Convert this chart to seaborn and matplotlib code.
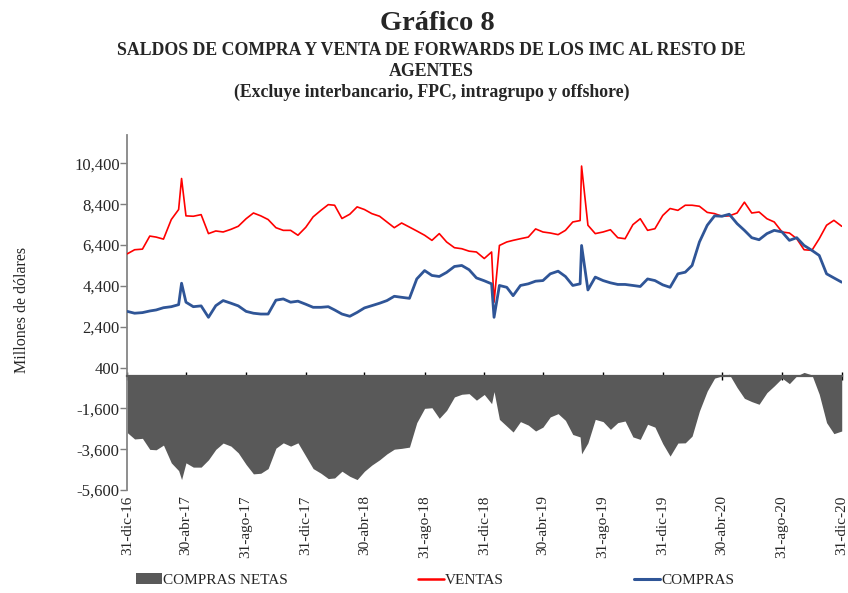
import matplotlib
matplotlib.use("Agg")
import matplotlib.pyplot as plt
import matplotlib.ticker as mticker
from matplotlib.patches import Patch
from matplotlib.lines import Line2D
import pandas as pd
import seaborn as sns

# ---------------- data ----------------
fechas = [
    "2016-12-31",
    "2017-01-15", "2017-01-31", "2017-02-15", "2017-02-28", "2017-03-15", "2017-03-31",
    "2017-04-15", "2017-04-21", "2017-04-30", "2017-05-15", "2017-05-31", "2017-06-15",
    "2017-06-30", "2017-07-15", "2017-07-31", "2017-08-15", "2017-08-31", "2017-09-15",
    "2017-09-30", "2017-10-15", "2017-10-31", "2017-11-15", "2017-11-30", "2017-12-15",
    "2017-12-31",
    "2018-01-15", "2018-01-31", "2018-02-15", "2018-02-28", "2018-03-15", "2018-03-31",
    "2018-04-15", "2018-04-30", "2018-05-15", "2018-05-31", "2018-06-15", "2018-06-30",
    "2018-07-15", "2018-07-31", "2018-08-15", "2018-08-31", "2018-09-15", "2018-09-30",
    "2018-10-15", "2018-10-31", "2018-11-15", "2018-11-30", "2018-12-15", "2018-12-31",
    "2019-01-15", "2019-01-20", "2019-01-31", "2019-02-15", "2019-02-28", "2019-03-15",
    "2019-03-31", "2019-04-15", "2019-04-30", "2019-05-15", "2019-05-31", "2019-06-15",
    "2019-06-30", "2019-07-15", "2019-07-18", "2019-07-31", "2019-08-15", "2019-08-31",
    "2019-09-15", "2019-09-30", "2019-10-15", "2019-10-31", "2019-11-15", "2019-11-30",
    "2019-12-15", "2019-12-31",
    "2020-01-15", "2020-01-31", "2020-02-15", "2020-02-29", "2020-03-15", "2020-03-31",
    "2020-04-15", "2020-04-30", "2020-05-15", "2020-05-31", "2020-06-15", "2020-06-30",
    "2020-07-15", "2020-07-31", "2020-08-15", "2020-08-31", "2020-09-15", "2020-09-30",
    "2020-10-15", "2020-10-31", "2020-11-15", "2020-11-30", "2020-12-15", "2020-12-31",
]

ventas = [
    5970,
    6170, 6200, 6840, 6790, 6690, 7650,
    8140, 9660, 7830, 7810, 7890, 6960,
    7090, 7040, 7170, 7320, 7690, 7970,
    7830, 7650, 7250, 7120, 7120, 6880,
    7270,
    7780, 8100, 8380, 8350, 7700, 7910,
    8270, 8140, 7940, 7810, 7530, 7250,
    7480, 7280, 7090, 6880, 6630, 6960,
    6550, 6270, 6220, 6100, 6060, 5740,
    6060, 3600, 6380, 6550, 6630, 6710,
    6790, 7190, 7040, 6990, 6910, 7120,
    7530, 7600, 10270, 7370, 6960, 7040,
    7150, 6760, 6710, 7400, 7690, 7120,
    7200, 7850,
    8190, 8100, 8350, 8350, 8300, 8000,
    7940, 7810, 7830, 7970, 8500, 7970,
    8020, 7690, 7530, 7040, 6990, 6710,
    6170, 6140, 6710, 7370, 7610, 7320,
]

compras = [
    3150,
    3060, 3090, 3170, 3220, 3330, 3380,
    3480, 4530, 3600, 3380, 3420, 2860,
    3430, 3680, 3550, 3420, 3150, 3060,
    3020, 3020, 3700, 3760, 3600, 3650,
    3500,
    3350, 3350, 3380, 3220, 3020, 2910,
    3100, 3320, 3430, 3550, 3680, 3890,
    3840, 3790, 4740, 5150, 4910, 4860,
    5060, 5350, 5400, 5190, 4790, 4650,
    4500, 2860, 4420, 4330, 3920, 4420,
    4500, 4630, 4660, 4990, 5120, 4860,
    4420, 4500, 6380, 4200, 4830, 4660,
    4550, 4470, 4470, 4420, 4370, 4740,
    4660, 4450,
    4330, 4990, 5070, 5400, 6550, 7370,
    7830, 7810, 7910, 7450, 7120, 6760,
    6660, 6960, 7120, 7040, 6630, 6760,
    6380, 6140, 5890, 4990, 4790, 4580,
]

compras_netas = [
    -2790,
    -3100, -3070, -3610, -3630, -3400, -4270,
    -4650, -5090, -4270, -4480, -4480, -4120,
    -3610, -3300, -3450, -3780, -4350, -4810,
    -4780, -4550, -3550, -3290, -3450, -3290,
    -3940,
    -4550, -4780, -5040, -5010, -4680, -4930,
    -5090, -4680, -4380, -4120, -3830, -3600,
    -3560, -3500, -2300, -1600, -1570, -2090,
    -1700, -1040, -910, -880, -1200, -920,
    -1370, -780, -2140, -2470, -2760, -2250,
    -2420, -2710, -2520, -2020, -1860, -2190,
    -2880, -3000, -3830, -3290, -2140, -2250,
    -2630, -2300, -2220, -3000, -3120, -2380,
    -2520, -3330,
    -3940, -3300, -3290, -2960, -1730, -750,
    -120, -10, 70, -580, -1110, -1270,
    -1400, -830, -500, -120, -390, -10,
    160, 40, -910, -2300, -2840, -2710,
]

tick_fechas = ["2016-12-31", "2017-04-30", "2017-08-31", "2017-12-31", "2018-04-30",
               "2018-08-31", "2018-12-31", "2019-04-30", "2019-08-31", "2019-12-31",
               "2020-04-30", "2020-08-31", "2020-12-31"]
tick_labels = ["31-dic-16", "30-abr-17", "31-ago-17", "31-dic-17", "30-abr-18",
               "31-ago-18", "31-dic-18", "30-abr-19", "31-ago-19", "31-dic-19",
               "30-abr-20", "31-ago-20", "31-dic-20"]
y_ticks = [-5600, -3600, -1600, 400, 2400, 4400, 6400, 8400, 10400]

# ---------------- styling ----------------
sns.set_theme(style="white")
plt.rcParams["font.family"] = ["Liberation Serif", "DejaVu Serif"]

df = pd.DataFrame({
    "fecha": pd.to_datetime(fechas),
    "VENTAS": ventas,
    "COMPRAS": compras,
    "COMPRAS NETAS": compras_netas,
})

C_RED = "#FF0000"
C_BLUE = "#2F5597"
C_GRAY = "#595959"

fig = plt.figure(figsize=(8.48, 5.93), dpi=100)
ax = fig.add_axes([0.1501, 0.1737, 0.9926 - 0.1501, 0.7723 - 0.1737])

ax.fill_between(df["fecha"], 0, df["COMPRAS NETAS"], color=C_GRAY, linewidth=0, zorder=1)
sns.lineplot(data=df, x="fecha", y="VENTAS", color=C_RED, linewidth=1.2, ax=ax, zorder=3)
sns.lineplot(data=df, x="fecha", y="COMPRAS", color=C_BLUE, linewidth=2.0, ax=ax, zorder=3)

ax.set_xlim(pd.Timestamp("2016-12-31"), pd.Timestamp("2020-12-31"))
ax.set_ylim(-5600, 11790)
ax.set_xlabel("")
ax.set_ylabel("")

ax.set_yticks(y_ticks)
ax.yaxis.set_major_formatter(mticker.FuncFormatter(lambda v, p: f"{v:,.0f}"))
ax.tick_params(axis="y", which="major", direction="out", length=5, width=1,
               color="#7F7F7F", labelsize=12, pad=0.5, left=True)

ax.set_xticks(pd.to_datetime(tick_fechas))
ax.set_xticklabels(tick_labels)
ax.spines["bottom"].set_position(("data", 0))
ax.spines["bottom"].set_color("#595959")
ax.spines["bottom"].set_linewidth(1.6)
ax.spines["left"].set_color("#868686")
ax.spines["left"].set_linewidth(1.3)
ax.spines["top"].set_visible(False)
ax.spines["right"].set_visible(False)
ax.tick_params(axis="x", which="major", direction="inout", length=6, width=1,
               color="black", pad=83, bottom=True, labelrotation=90, labelsize=11)
ax.grid(False)

# titles
fig.text(0.516, 0.960, "Gráfico 8", ha="center", va="center", fontsize=20.5, fontweight="bold")
fig.text(0.509, 0.914, "SALDOS DE COMPRA Y VENTA DE FORWARDS DE LOS IMC AL RESTO DE",
         ha="center", va="center", fontsize=12.8, fontweight="bold")
fig.text(0.509, 0.880, "AGENTES", ha="center", va="center", fontsize=12.8, fontweight="bold")
fig.text(0.509, 0.844, "(Excluye interbancario, FPC, intragrupo y offshore)",
         ha="center", va="center", fontsize=12.8, fontweight="bold")

fig.text(0.026, 0.477, "Millones de dólares", rotation=90, ha="center", va="center", fontsize=11.5)

handles = [
    Patch(facecolor=C_GRAY, edgecolor="none"),
    Line2D([0], [0], color=C_RED, linewidth=1.8),
    Line2D([0], [0], color=C_BLUE, linewidth=2.2),
]
fig.legend(handles, ["COMPRAS NETAS", "VENTAS", "COMPRAS"], ncol=3, frameon=False,
           loc="center", bbox_to_anchor=(435 / 848, 1 - 580 / 593), fontsize=11,
           handlelength=1.7, handletextpad=0.1, columnspacing=8.5)

fig.savefig("out.png", dpi=100)
